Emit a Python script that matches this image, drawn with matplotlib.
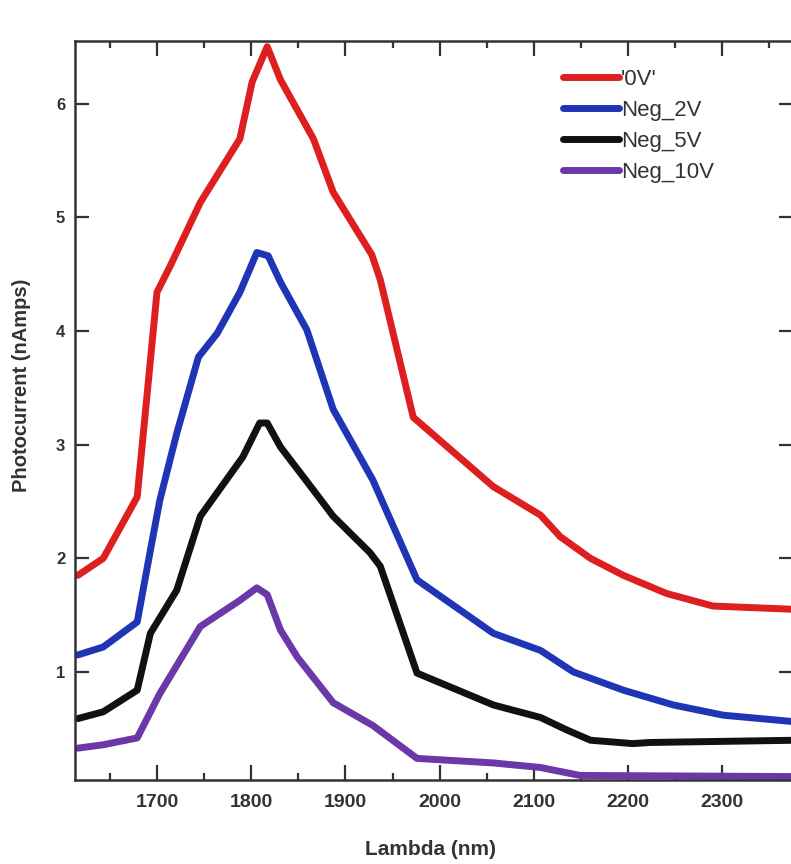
import matplotlib
matplotlib.use("Agg")
import matplotlib.pyplot as plt
from matplotlib.ticker import MultipleLocator

plt.rcParams['font.family'] = ['Liberation Sans', 'DejaVu Sans']

# Data
labels = ["'0V'", "Neg_2V", "Neg_5V", "Neg_10V"]
colors = ["#dd1f1f", "#1f35b5", "#111111", "#6a38a8"]

x_0v = [1616, 1643, 1679, 1700, 1714, 1746, 1788, 1801, 1817, 1831, 1866, 1887,
        1928, 1937, 1972, 2057, 2107, 2128, 2160, 2195, 2241, 2290, 2380]
y_0v = [1.85, 2.00, 2.54, 4.34, 4.57, 5.13, 5.69, 6.19, 6.50, 6.21, 5.69, 5.22,
        4.67, 4.45, 3.24, 2.63, 2.38, 2.19, 2.00, 1.85, 1.69, 1.58, 1.55]

x_2v = [1616, 1643, 1679, 1693, 1703, 1721, 1744, 1764, 1788, 1806, 1818, 1831,
        1859, 1887, 1929, 1976, 2057, 2107, 2142, 2195, 2248, 2301, 2380]
y_2v = [1.15, 1.22, 1.44, 2.07, 2.51, 3.10, 3.77, 3.98, 4.34, 4.69, 4.66, 4.43,
        4.01, 3.31, 2.69, 1.81, 1.34, 1.19, 1.00, 0.84, 0.71, 0.62, 0.56]

x_5v = [1616, 1643, 1679, 1693, 1721, 1746, 1791, 1809, 1817, 1831, 1866, 1887,
        1926, 1937, 1976, 2057, 2107, 2135, 2160, 2205, 2223, 2380]
y_5v = [0.59, 0.65, 0.84, 1.34, 1.72, 2.37, 2.89, 3.19, 3.19, 2.98, 2.60, 2.37,
        2.05, 1.93, 0.99, 0.71, 0.60, 0.49, 0.40, 0.37, 0.38, 0.40]

x_10v = [1616, 1643, 1679, 1703, 1746, 1788, 1806, 1817, 1831, 1849, 1887, 1929,
         1976, 2057, 2107, 2149, 2380]
y_10v = [0.33, 0.36, 0.42, 0.81, 1.40, 1.63, 1.74, 1.68, 1.37, 1.13, 0.73, 0.53,
         0.24, 0.20, 0.16, 0.09, 0.08]

xs = [x_0v, x_2v, x_5v, x_10v]
ys = [y_0v, y_2v, y_5v, y_10v]

fig = plt.figure(figsize=(7.91, 8.64), dpi=100)
ax = fig.add_axes([75 / 791, 1 - 780 / 864, 718 / 791, (780 - 41) / 864])

for x, y, c, lab in zip(xs, ys, colors, labels):
    ax.plot(x, y, color=c, lw=5, label=lab, solid_joinstyle='round',
            solid_capstyle='round')

ax.set_xlim(1613, 2375)
ax.set_ylim(0.05, 6.55)

ax.xaxis.set_major_locator(MultipleLocator(100))
ax.xaxis.set_minor_locator(MultipleLocator(50))
ax.yaxis.set_major_locator(MultipleLocator(1))

ax.tick_params(axis='x', which='major', direction='in', top=True, bottom=True,
               length=11, width=1.6, color='#333333', labelsize=14, pad=10,
               labelcolor='#333333')
ax.tick_params(axis='x', which='minor', direction='in', top=True, bottom=True,
               length=5, width=1.6, color='#333333')
ax.tick_params(axis='y', which='major', direction='in', left=True, right=True,
               length=10, width=1.6, color='#333333', labelsize=12, pad=7,
               labelcolor='#333333')
for lab in ax.get_xticklabels() + ax.get_yticklabels():
    lab.set_fontweight('bold')

for s in ax.spines.values():
    s.set_color('#333333')
    s.set_linewidth(1.8)

ax.set_xlabel('Lambda (nm)', fontsize=15, fontweight='bold', color='#333333')
ax.xaxis.set_label_coords(0.495, -0.094)
ax.set_ylabel('Photocurrent (nAmps)', fontsize=14.5, fontweight='bold',
              color='#333333')
ax.yaxis.set_label_coords(-0.074, 0.534)
ax.yaxis.label.set_va('center')
ax.xaxis.label.set_va('center')

leg = ax.legend(loc='upper left', bbox_to_anchor=(0.68, 0.962), frameon=False,
                fontsize=16, handlelength=2.5, handletextpad=0.1,
                labelspacing=0.45, borderpad=0, borderaxespad=0)
for t in leg.get_texts():
    t.set_color('#333333')

fig.savefig('out.png', dpi=100)
